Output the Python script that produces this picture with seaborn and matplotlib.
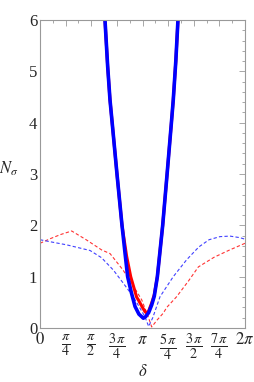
import numpy as np
import matplotlib
matplotlib.use("Agg")
import matplotlib.pyplot as plt
import seaborn as sns
from matplotlib.ticker import MultipleLocator, FixedLocator
import pandas as pd

# delta in units of pi
blue_thick_d = [0.622, 0.634, 0.66, 0.683, 0.704, 0.751, 0.80, 0.83, 0.855, 0.89, 0.927, 0.965, 0.992, 1.008, 1.03, 1.06, 1.09, 1.115, 1.145, 1.197, 1.24, 1.282, 1.30, 1.325, 1.346, 1.352]
blue_thick_n = [6.3, 6.0, 5.1, 4.44, 4.0, 3.0, 2.0, 1.45, 1.0, 0.7, 0.42, 0.27, 0.22, 0.19, 0.22, 0.3, 0.45, 0.62, 1.0, 2.0, 3.0, 4.0, 4.44, 5.2, 6.0, 6.3]

red_thick_d = [0.622, 0.634, 0.66, 0.683, 0.704, 0.751, 0.80, 0.845, 0.885, 0.943, 0.959, 1.0, 1.024, 1.04, 1.06, 1.09, 1.115, 1.145, 1.197, 1.24, 1.282, 1.30, 1.325, 1.346, 1.352]
red_thick_n = [6.3, 6.0, 5.1, 4.44, 4.0, 3.0, 2.0, 1.4, 1.0, 0.6, 0.55, 0.4, 0.32, 0.29, 0.33, 0.49, 0.65, 1.0, 2.0, 3.0, 4.0, 4.44, 5.2, 6.0, 6.3]

red_dash_d = [0.0, 0.1, 0.2, 0.309, 0.45, 0.602, 0.683, 0.81, 0.91, 0.992, 1.05, 1.09, 1.14, 1.203, 1.236, 1.333, 1.45, 1.545, 1.7, 1.85, 2.0]
red_dash_n = [1.65, 1.74, 1.82, 1.89, 1.72, 1.52, 1.45, 1.13, 0.82, 0.55, 0.25, 0.02, 0.15, 0.29, 0.40, 0.61, 0.92, 1.19, 1.38, 1.52, 1.65]

blue_dash_d = [0.0, 0.1, 0.26, 0.488, 0.6, 0.715, 0.81, 0.91, 1.024, 1.06, 1.1, 1.171, 1.3, 1.431, 1.55, 1.65, 1.756, 1.854, 1.95, 2.0]
blue_dash_n = [1.72, 1.68, 1.62, 1.51, 1.37, 1.13, 0.88, 0.61, 0.22, 0.03, 0.2, 0.61, 1.0, 1.33, 1.58, 1.72, 1.78, 1.79, 1.76, 1.73]

xtick_vals = [0, 0.25, 0.5, 0.75, 1.0, 1.25, 1.5, 1.75, 2.0]
xtick_labels = [r'$0$', r'$\frac{\pi}{4}$', r'$\frac{\pi}{2}$', r'$\frac{3\,\pi}{4}$', r'$\pi$',
                r'$\frac{5\,\pi}{4}$', r'$\frac{3\,\pi}{2}$', r'$\frac{7\,\pi}{4}$', r'$2\pi$']

sns.set_theme(style="white")
plt.rcParams['font.family'] = ['Liberation Serif', 'DejaVu Serif']
plt.rcParams['mathtext.fontset'] = 'stix'

fig = plt.figure(figsize=(2.54, 3.82), dpi=100)
ax = fig.add_axes([40/254, 54/382, 205/254, 308/382])

def df(d, n):
    return pd.DataFrame({'x': np.array(d) * np.pi, 'y': n})

sns.lineplot(data=df(red_dash_d, red_dash_n), x='x', y='y', ax=ax, color=(1, 0.2, 0.2), lw=0.8, ls=(0, (3, 2)), sort=False)
sns.lineplot(data=df(blue_dash_d, blue_dash_n), x='x', y='y', ax=ax, color=(0.25, 0.25, 1), lw=0.8, ls=(0, (3, 2)), sort=False)
sns.lineplot(data=df(red_thick_d, red_thick_n), x='x', y='y', ax=ax, color='red', lw=2.2, sort=False)
sns.lineplot(data=df(blue_thick_d, blue_thick_n), x='x', y='y', ax=ax, color='blue', lw=2.6, sort=False)

ax.set_xlim(0, 2 * np.pi)
ax.set_ylim(0, 6)
ax.xaxis.set_major_locator(FixedLocator(np.array(xtick_vals) * np.pi))
ax.set_xticklabels(xtick_labels)
ax.xaxis.set_minor_locator(MultipleLocator(np.pi / 8))
ax.yaxis.set_major_locator(MultipleLocator(1))
ax.yaxis.set_minor_locator(MultipleLocator(0.2))
ax.tick_params(which='both', direction='in', top=True, right=True, color='#999999', width=0.6)
ax.tick_params(which='major', length=4)
ax.tick_params(which='minor', length=2.5)
ax.tick_params(axis='y', labelsize=12, pad=2)
ax.tick_params(axis='x', labelsize=12, pad=3)
for lbl, txt in zip(ax.get_xticklabels(), xtick_labels):
    if 'frac' in txt:
        lbl.set_fontsize(14.5)
for s in ax.spines.values():
    s.set_color('#999999')
    s.set_linewidth(0.8)
ax.set_xlabel(r'$\delta$', fontsize=12)
ax.xaxis.set_label_coords(0.5, -0.118)
ax.set_ylabel(r'$N_\sigma$', fontsize=12, rotation=0)
ax.yaxis.set_label_coords(-0.15, 0.487)

fig.savefig('out.png', dpi=100)
